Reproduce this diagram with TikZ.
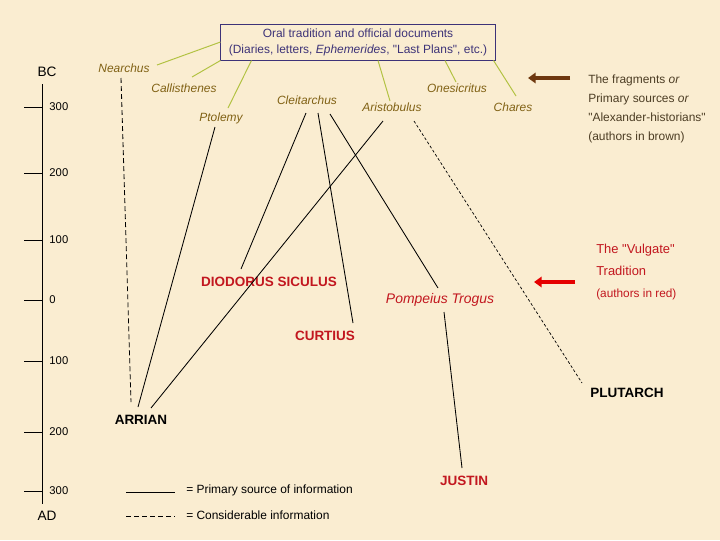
\documentclass[tikz,border=0pt]{standalone}
\usepackage{fontspec}
\setmainfont{Liberation Sans}
\usepackage{tikz}
\usetikzlibrary{positioning, calc, arrows.meta}
\definecolor{parchment}{rgb}{0.98, 0.93, 0.82}
\definecolor{fragbrown}{rgb}{0.50, 0.38, 0.08}
\definecolor{sourcegreen}{rgb}{0.70, 0.76, 0.26}
\definecolor{boxblue}{rgb}{0.24, 0.20, 0.47}
\definecolor{vulgred}{rgb}{0.76, 0.09, 0.12}
\definecolor{arrowbrown}{rgb}{0.43, 0.22, 0.06}
\definecolor{arrowred}{rgb}{0.90, 0.00, 0.00}
\definecolor{notegray}{rgb}{0.30, 0.24, 0.14}
\newcommand{\dq}{\textquotedbl}

\tikzset{
  sourcebox/.style={draw=boxblue, text=boxblue, line width=0.7pt, align=center,
    minimum width=6.85cm, minimum height=0.9cm, inner sep=1pt,
    font=\fontsize{8.5}{11.3}\selectfont},
  fragment/.style={text=fragbrown, inner sep=1pt, font=\fontsize{8.5}{10}\selectfont\itshape},
  vulgate/.style={text=vulgred, inner sep=1pt, font=\fontsize{9.6}{11}\selectfont\bfseries},
  later/.style={text=black, inner sep=1pt, font=\fontsize{9.6}{11}\selectfont\bfseries},
  tie/.style={sourcegreen, line width=0.7pt},
  primary/.style={black, line width=0.6pt},
  considerable/.style={black, line width=0.6pt, dash pattern=on 3.5pt off 2.2pt},
  slight/.style={black, line width=0.5pt, dash pattern=on 2pt off 1.5pt},
  era/.style={font=\fontsize{9.7}{11}\selectfont},
  year/.style={anchor=west, inner sep=0pt, font=\fontsize{8}{10}\selectfont},
  note/.style={anchor=north west, inner sep=0pt, align=left}
}

\begin{document}
\begin{tikzpicture}[x=0.025cm, y=-0.025cm]
  \fill[parchment] (0,0) rectangle (720,540);
  \useasboundingbox (0,0) rectangle (720,540);

  \draw[line width=0.7pt] (42,84) -- (42,504);
  \foreach \y/\yr in {107/300, 173/200, 240/100, 300/0, 361/100, 432/200, 491/300}
    \draw[line width=0.7pt] (24,\y) -- (42,\y) node[year] at (49,\y) {\yr};
  \node[era] (bc) at (47,72) {BC};
  \node[era] (ad) at (47,516) {AD};

  \node[sourcebox] (oral) at (358,42) {Oral tradition and official documents\\(Diaries, letters, \emph{Ephemerides}, \dq Last Plans\dq, etc.)};

  \node[fragment] (nea) at (124,68) {Nearchus};
  \node[fragment] (cal) at (184,88) {Callisthenes};
  \node[fragment] (pto) at (221,118) {Ptolemy};
  \node[fragment] (clei) at (307,100) {Cleitarchus};
  \node[fragment] (aris) at (392,107) {Aristobulus};
  \node[fragment] (ones) at (457,88) {Onesicritus};
  \node[fragment] (chares) at (513,107) {Chares};

  \node[vulgate] (diod) at (269,282) {DIODORUS SICULUS};
  \node[vulgate] (curt) at (325,336) {CURTIUS};
  \node[text=vulgred, inner sep=1pt, font=\fontsize{9.9}{11}\selectfont\itshape] (pomp) at (440,300) {Pompeius Trogus};
  \node[vulgate] (justin) at (464,481) {JUSTIN};
  \node[later] (arrian) at (141,420) {ARRIAN};
  \node[later] (plut) at (627,393) {PLUTARCH};

  \draw[tie] ($(nea)+(33,-3)$) -- (oral.west);
  \draw[tie] ($(cal)+(8,-11)$) -- (oral.south west);
  \draw[tie] ($(pto)+(7,-10)$) -- ($(oral.south west)+(31,0)$);
  \draw[tie] ($(aris)+(-2,-6)$) -- ($(oral.south)+(20,0)$);
  \draw[tie] ($(ones)+(-1,-6)$) -- ($(oral.south)+(87,0)$);
  \draw[tie] ($(chares)+(3,-11)$) -- ($(oral.south east)+(-2,0)$);

  \draw[considerable] ($(nea)+(-3,10)$) -- ($(arrian)+(-10,-18)$);
  \draw[primary] ($(pto)+(-6,9)$) -- ($(arrian)+(-3,-13)$);
  \draw[primary] ($(clei)+(-1,13)$) -- ($(diod)+(-28,-13)$);
  \draw[primary] ($(clei)+(11,13)$) -- ($(curt)+(28,-13)$);
  \draw[primary] ($(clei)+(23,14)$) -- ($(pomp)+(-2,-12)$);
  \draw[primary] ($(aris)+(-9,14)$) -- ($(arrian)+(10,-12)$);
  \draw[slight] ($(aris)+(22,14)$) -- ($(plut)+(-45,-10)$);
  \draw[primary] ($(pomp)+(4,12)$) -- ($(justin)+(-2,-13)$);

  \node[note, text=notegray, font=\fontsize{8.5}{13.5}\selectfont] (frag) at (588,75)
    {The fragments \emph{or}\\Primary sources \emph{or}\\\dq Alexander-historians\dq\\(authors in brown)};
  \draw[arrowbrown, line width=2.8pt, -{Triangle[width=7.5pt, length=5.5pt]}]
    ($(frag.north west)+(-18,3)$) -- ($(frag.north west)+(-60,3)$);

  \node[note, text=vulgred, font=\fontsize{9.2}{15.5}\selectfont] (vulg) at (596,244)
    {The \dq Vulgate\dq\\Tradition\\{\fontsize{8.4}{14}\selectfont (authors in red)}};
  \draw[arrowred, line width=2.8pt, -{Triangle[width=7.5pt, length=5.5pt]}]
    ($(vulg.north west)+(-21,38)$) -- ($(vulg.north west)+(-62,38)$);

  \node[anchor=west, inner sep=0pt, font=\fontsize{8.5}{10}\selectfont] (legprim) at (186,490) {= Primary source of information};
  \node[anchor=west, inner sep=0pt, font=\fontsize{8.5}{10}\selectfont] (legcons) at (186,515) {= Considerable information};
  \draw[primary] ($(legprim.west)+(-60,2)$) -- ($(legprim.west)+(-11,2)$);
  \draw[considerable] ($(legcons.west)+(-60,1)$) -- ($(legcons.west)+(-11,1)$);
\end{tikzpicture}
\end{document}
